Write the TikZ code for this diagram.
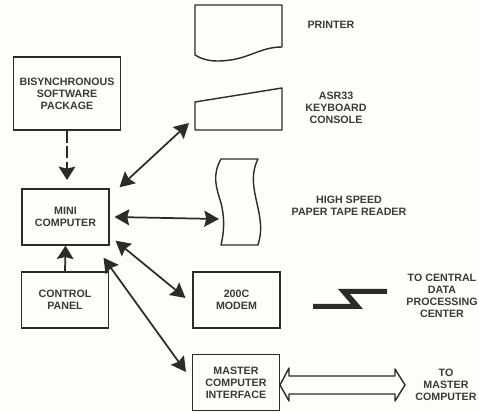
\documentclass[tikz,border=0pt]{standalone}
\usepackage{fontspec}
\setmainfont{Liberation Sans}
\usetikzlibrary{arrows.meta}
\definecolor{paper}{HTML}{FDFDF9}
\definecolor{ink}{HTML}{2B2B29}
\definecolor{print}{HTML}{3A3A38}
\tikzset{
    block/.style={draw=ink, line width=1.05pt, inner sep=0pt, text=print, font=\fontsize{8}{9}\selectfont\bfseries, align=center},
    caption/.style={text=print, inner sep=0pt, font=\fontsize{8}{9}\selectfont\bfseries, align=center},
    outline/.style={draw=ink, line width=1.05pt, line join=round},
    link/.style={draw=ink, line width=1.3pt, {Stealth[length=11pt,width=12pt,inset=1.5pt]}-{Stealth[length=11pt,width=12pt,inset=1.5pt]}},
    feed/.style={draw=ink, line width=1.3pt, -{Stealth[length=10pt,width=12.5pt,inset=1.5pt]}}
}
\begin{document}
\begin{tikzpicture}[x=0.75pt, y=-0.75pt]
        \useasboundingbox [fill=paper] (0, 0) rectangle (479, 413);

        % Boites
        \node [block, minimum width=80pt, minimum height=55pt] (soft) at (67, 93.5) {BISYNCHRONOUS\\SOFTWARE\\PACKAGE};
        \node [block, minimum width=65pt, minimum height=42pt] (mini) at (65.5, 217) {MINI\\COMPUTER};
        \node [block, minimum width=65pt, minimum height=42pt] (panel) at (65, 300) {CONTROL\\PANEL};
        \node [block, minimum width=65pt, minimum height=42pt] (modem) at (236.5, 300) {200C\\MODEM};
        \node [block, minimum width=65pt, minimum height=42pt] (master) at (236, 382.5) {MASTER\\COMPUTER\\INTERFACE};

        % Peripheriques
        \draw [outline] (195, 5) -- (282, 5) -- (282, 47) .. controls (258, 47) and (248, 61) .. (217, 61) .. controls (207, 61) and (200, 58) .. (195, 55) -- cycle;
        \draw [outline] (195, 102) -- (282, 88) -- (282, 130) -- (195, 130) -- cycle;
        \draw [outline] (221, 159) -- (258, 159) .. controls (250, 175) and (254, 190) .. (258, 208) .. controls (261, 222) and (262, 232) .. (258, 245) -- (221, 245) .. controls (225, 228) and (224, 215) .. (221, 203) .. controls (216, 187) and (212, 175) .. (221, 159) -- cycle;
        \coordinate (kbd) at (195, 130);
        \coordinate (tape) at (219, 219);
        \coordinate (dashend) at (67, 180);

        % Textes
        \node [caption] (printer) at (331, 25) {PRINTER};
        \node [caption] (console) at (336, 108) {ASR33\\KEYBOARD\\CONSOLE};
        \node [caption] (reader) at (349, 206) {HIGH SPEED\\PAPER TAPE READER};
        \node [caption] (central) at (442, 295.5) {TO CENTRAL\\DATA\\PROCESSING\\CENTER};
        \node [caption] (remote) at (446, 385) {TO\\MASTER\\COMPUTER};

        % Fleches
        \draw [feed, dash pattern=on 9pt off 2.5pt] (soft.south) -- (dashend);
        \draw [feed] (panel.north) -- (mini.south);
        \draw [link] ([shift={(10, -1)}]mini.north east) -- ([shift={(-6, -7)}]kbd);
        \draw [link] ([shift={(5, 0)}]mini.east) -- (tape);
        \draw [link] ([shift={(6, -5)}]mini.south east) -- ([shift={(-7, -2)}]modem.west);
        \draw [link] ([shift={(-6, 12)}]mini.south east) -- ([shift={(-6, -10.5)}]master.west);

        % Liaison maitre
        \draw [outline, fill=paper] (280, 385) -- (289, 368) -- (289, 376) -- (395, 376) -- (395, 369) -- (405, 385) -- (395, 401) -- (395, 394) -- (289, 394) -- (289, 401) -- cycle;

        % Ligne modem
        \fill [ink] (338, 289) -- (387, 289) -- (387, 294) -- (350, 294) -- (363, 309) -- (313, 309) -- (313, 304) -- (351, 304) -- cycle;
\end{tikzpicture}
\end{document}
